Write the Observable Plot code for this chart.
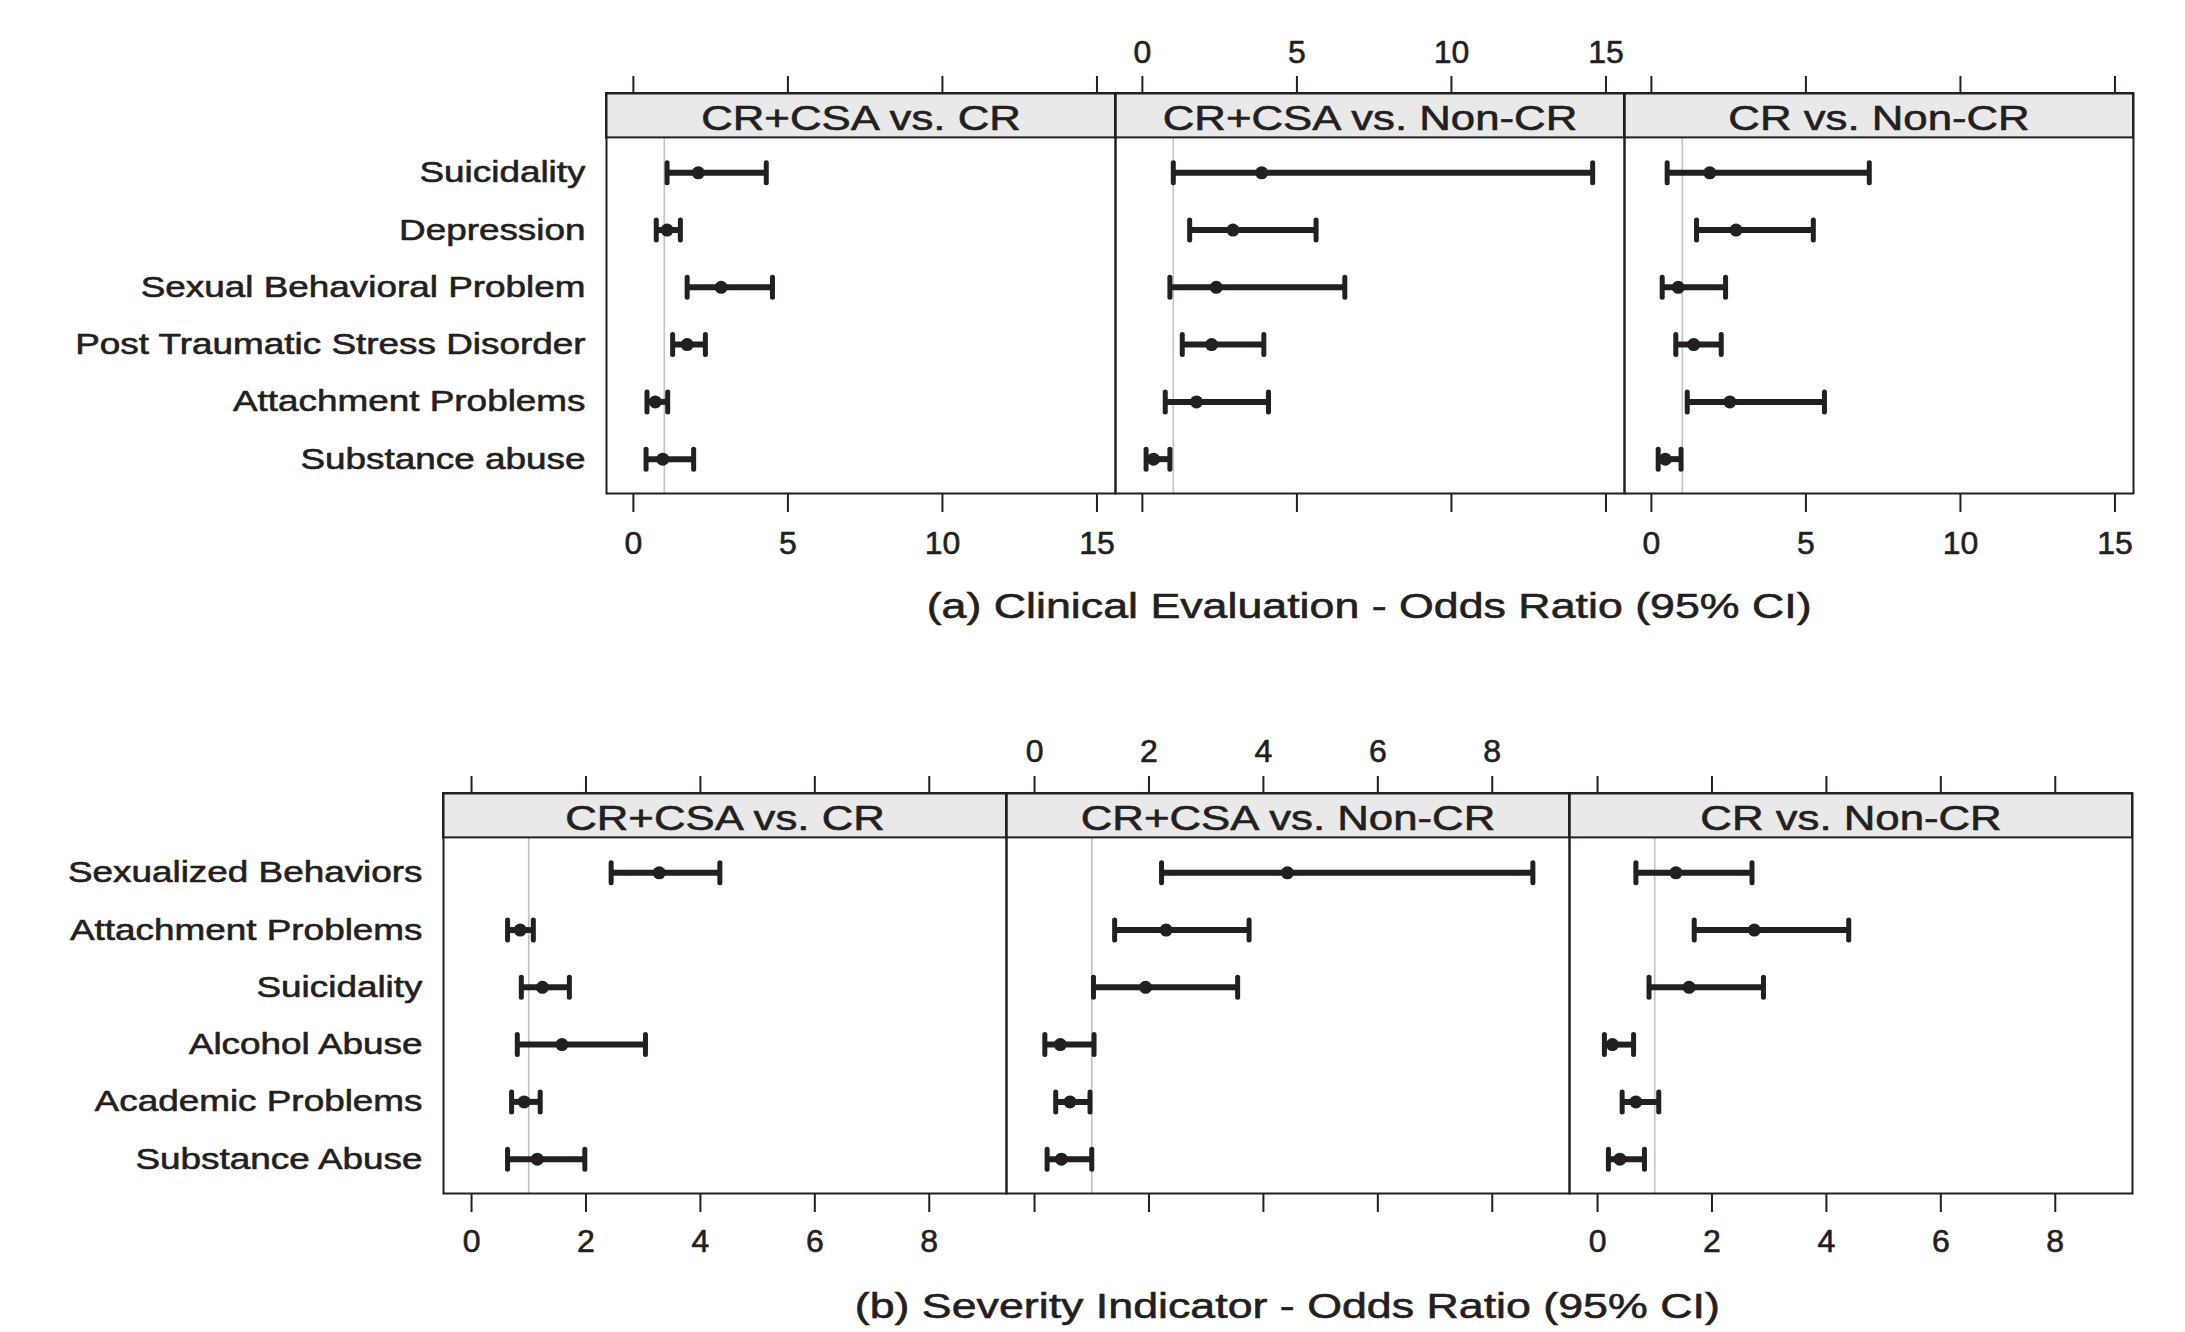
<!DOCTYPE html>
<html>
<head>
<meta charset="utf-8">
<script src="https://cdn.jsdelivr.net/npm/d3@7"></script>
<script src="https://cdn.jsdelivr.net/npm/@observablehq/plot@0.6"></script>
<style>
  html, body { margin: 0; padding: 0; background: #fff; overflow: hidden; }
  body { width: 2185px; height: 1332px; font-family: "Liberation Sans", Arial, sans-serif; color: #231f20; }
  .title { font-size: 35.5px; text-align: center; white-space: nowrap; -webkit-text-stroke: 0.6px #231f20; }
  .title span { display: inline-block; transform: scaleX(1.26); }
  svg { display: block; }
  svg text { stroke: #231f20; stroke-width: 0.6px; stroke-linejoin: round; }
</style>
</head>
<body>
<div id="figA"></div>
<div class="title" style="margin-left:606px;width:1527px;height:72px;line-height:72px;"><span>(a) Clinical Evaluation - Odds Ratio (95% CI)</span></div>
<div style="height:58px"></div>
<div id="figB"></div>
<div class="title" style="margin-left:442px;width:1691px;padding-top:12px;height:48px;line-height:48px;"><span>(b) Severity Indicator - Odds Ratio (95% CI)</span></div>
<script>
// ---------- data ----------
const comparisons = ["CR+CSA vs. CR", "CR+CSA vs. Non-CR", "CR vs. Non-CR"];
const referenceOR = 1;

// (a) Clinical Evaluation
const clinicalItems = ["Suicidality", "Depression", "Sexual Behavioral Problem",
  "Post Traumatic Stress Disorder", "Attachment Problems", "Substance abuse"];
const clinicalOR    = [[2.10, 1.09, 2.84, 1.74, 0.71, 0.95],
                       [3.86, 2.93, 2.39, 2.24, 1.75, 0.36],
                       [1.89, 2.74, 0.87, 1.37, 2.54, 0.45]];
const clinicalLower = [[1.09, 0.74, 1.74, 1.27, 0.44, 0.41],
                       [1.00, 1.53, 0.89, 1.29, 0.74, 0.12],
                       [0.51, 1.46, 0.35, 0.79, 1.16, 0.22]];
const clinicalUpper = [[4.30, 1.52, 4.50, 2.33, 1.11, 1.95],
                       [14.57, 5.62, 6.55, 3.93, 4.08, 0.89],
                       [7.05, 5.24, 2.40, 2.26, 5.60, 0.96]];
const clinicalTicks = [0, 5, 10, 15];
const clinicalDomain = [-0.87, 15.6];

// (b) Severity Indicator
const severityItems = ["Sexualized Behaviors", "Attachment Problems", "Suicidality",
  "Alcohol Abuse", "Academic Problems", "Substance Abuse"];
const severityOR    = [[3.28, 0.85, 1.24, 1.58, 0.92, 1.15],
                       [4.42, 2.30, 1.94, 0.45, 0.62, 0.47],
                       [1.37, 2.74, 1.60, 0.26, 0.67, 0.39]];
const severityLower = [[2.44, 0.63, 0.87, 0.80, 0.70, 0.63],
                       [2.22, 1.40, 1.03, 0.18, 0.37, 0.22],
                       [0.67, 1.69, 0.90, 0.12, 0.43, 0.19]];
const severityUpper = [[4.34, 1.08, 1.71, 3.04, 1.20, 1.98],
                       [8.71, 3.75, 3.55, 1.04, 0.97, 1.00],
                       [2.70, 4.39, 2.90, 0.63, 1.07, 0.82]];
const severityTicks = [0, 2, 4, 6, 8];
const severityDomain = [-0.49, 9.35];

// ---------- style / layout ----------
const INK = "#231f20";
const STRIP_FILL = "#e9e9e9";
const PAD_TOP = 0.61, STRIP = 0.775, PAD_BOTTOM = 0.6; // in row units
const FONT = "'Liberation Sans', Arial, sans-serif";

const capSymbol = {
  draw(context, size) {
    const h = Math.sqrt(size / Math.PI);
    context.moveTo(0, -h);
    context.lineTo(0, h);
  }
};

function panelChart({items, or, lower, upper, ticks, domain, marginLeft, topDy, bottomDy}) {
  const rows = [];
  comparisons.forEach((c, j) => items.forEach((item, i) =>
    rows.push({comp: c, row: i + 1, or: or[j][i], lo: lower[j][i], hi: upper[j][i]})));
  const rowIdx = items.map((d, i) => i + 1);
  const topLabels = ticks.map(v => ({comp: comparisons[1], v}));
  const bottomLabels = d3.cross([comparisons[0], comparisons[2]], ticks, (comp, v) => ({comp, v}));
  const yTop = 1 - PAD_TOP - STRIP;
  const yStripBottom = 1 - PAD_TOP;
  const yBottom = items.length + PAD_BOTTOM;
  return Plot.plot({
    width: 2185, height: 570,
    marginTop: 93, marginBottom: 77, marginLeft, marginRight: 52,
    style: {fontFamily: FONT, fontSize: "30px", color: INK, background: "white", overflow: "visible"},
    fx: {domain: comparisons, padding: 0, axis: null},
    x: {domain},
    y: {domain: [yBottom, yTop]},
    marks: [
      Plot.ruleX([referenceOR], {stroke: "#c2c2c2", strokeWidth: 1.6}),
      Plot.rect(comparisons, {fx: d => d, y1: yTop, y2: yStripBottom, fill: STRIP_FILL, stroke: INK, strokeWidth: 2}),
      Plot.text(comparisons, {fx: d => d, y: (yTop + yStripBottom) / 2, text: d => d, fontSize: 35, dy: 3, fill: INK}),
      Plot.ruleY(rows, {fx: "comp", y: "row", x1: "lo", x2: "hi", stroke: INK, strokeWidth: 6}),
      Plot.dot(rows, {fx: "comp", y: "row", x: "lo", symbol: capSymbol, r: 10, stroke: INK, strokeWidth: 5, strokeLinecap: "round", fill: "none"}),
      Plot.dot(rows, {fx: "comp", y: "row", x: "hi", symbol: capSymbol, r: 10, stroke: INK, strokeWidth: 5, strokeLinecap: "round", fill: "none"}),
      Plot.dot(rows, {fx: "comp", y: "row", x: "or", r: 6.5, fill: INK, stroke: "none"}),
      Plot.axisX(ticks, {anchor: "top", tickSize: 18, tickFormat: () => "", strokeWidth: 2, stroke: INK, label: null}),
      Plot.axisX(ticks, {anchor: "bottom", tickSize: 19, tickFormat: () => "", strokeWidth: 2, stroke: INK, label: null}),
      Plot.text(topLabels, {fx: "comp", x: "v", text: d => String(d.v), frameAnchor: "top", lineAnchor: "middle", dy: topDy, fontSize: 32, fill: INK}),
      Plot.text(bottomLabels, {fx: "comp", x: "v", text: d => String(d.v), frameAnchor: "bottom", lineAnchor: "middle", dy: bottomDy, fontSize: 32, fill: INK}),
      Plot.axisY(rowIdx, {tickFormat: i => items[i - 1], tickSize: 0, tickPadding: 21, fontSize: 29.5, fill: INK, label: null}),
      Plot.frame({stroke: INK, strokeWidth: 2})
    ]
  });
}

function stretchText(t, k) {
  const w = t.getComputedTextLength();
  if (w > 0) {
    t.setAttribute("textLength", (w * k).toFixed(1));
    t.setAttribute("lengthAdjust", "spacingAndGlyphs");
  }
}

const svgA = panelChart({items: clinicalItems, or: clinicalOR, lower: clinicalLower, upper: clinicalUpper,
  ticks: clinicalTicks, domain: clinicalDomain, marginLeft: 606, topDy: -41, bottomDy: 50});
document.getElementById("figA").append(svgA);

const svgB = panelChart({items: severityItems, or: severityOR, lower: severityLower, upper: severityUpper,
  ticks: severityTicks, domain: severityDomain, marginLeft: 442, topDy: -42, bottomDy: 48});
document.getElementById("figB").append(svgB);

const stretchable = new Set([...comparisons, ...clinicalItems, ...severityItems]);
for (const svg of [svgA, svgB]) {
  svg.querySelectorAll("text").forEach(t => {
    if (t.querySelector("tspan")) return;
    if (stretchable.has(t.textContent)) stretchText(t, 1.25);
  });
}
</script>
</body>
</html>
